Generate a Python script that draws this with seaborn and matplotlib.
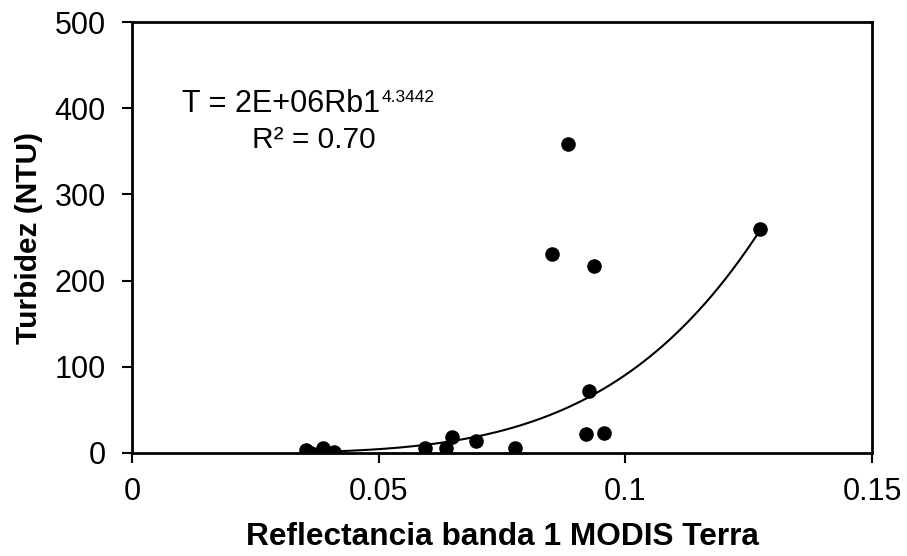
import numpy as np
import pandas as pd
import matplotlib
matplotlib.use("Agg")
import matplotlib.pyplot as plt
import seaborn as sns

# Data
reflectance = [0.0353, 0.0362, 0.0387, 0.0410, 0.0593, 0.0636, 0.0649, 0.0697,
               0.0777, 0.0851, 0.0884, 0.0920, 0.0926, 0.0937, 0.0957, 0.1273]
turbidity = [3.5, 0.5, 5.4, 1.5, 6.0, 5.4, 18.0, 14.3,
             5.8, 230.8, 358.5, 22.0, 72.3, 217.3, 22.8, 259.5]

# Power trendline parameters (from the chart's equation)
coef_a = 2e6
coef_b = 4.3442

x_ticks = [0, 0.05, 0.1, 0.15]
x_tick_labels = ["0", "0.05", "0.1", "0.15"]
y_ticks = [0, 100, 200, 300, 400, 500]

sns.set_theme(style="white")
plt.rcParams["font.family"] = ["Liberation Sans", "DejaVu Sans"]

df = pd.DataFrame({"x": reflectance, "y": turbidity})

fig = plt.figure(figsize=(9.07, 5.56), dpi=100)
ax = fig.add_axes([132 / 907, 1 - 453 / 556, (872 - 132) / 907, (453 - 22) / 556])

xs = np.linspace(min(reflectance), max(reflectance), 200)
trend = pd.DataFrame({"x": xs, "y": coef_a * xs ** coef_b})
sns.lineplot(data=trend, x="x", y="y", ax=ax, color="black", linewidth=1.5, zorder=2)
sns.scatterplot(data=df, x="x", y="y", ax=ax, color="black", s=110,
                edgecolor="black", linewidth=0, zorder=3)

ax.set_xlim(0, 0.15)
ax.set_ylim(0, 500)
ax.set_xticks(x_ticks)
ax.set_xticklabels(x_tick_labels)
ax.set_yticks(y_ticks)
ax.tick_params(axis="both", direction="out", length=7, width=1.5,
               labelsize=22, color="black", labelcolor="black",
               bottom=True, left=True)
ax.tick_params(axis="x", pad=10)
ax.tick_params(axis="y", pad=12)
for sp in ax.spines.values():
    sp.set_color("black")
    sp.set_linewidth(2)

ax.set_xlabel("Reflectancia banda 1 MODIS Terra", fontsize=22.8, fontweight="bold",
              color="black", labelpad=11)
ax.set_ylabel("Turbidez (NTU)", fontsize=21.5, fontweight="bold", color="black",
              labelpad=8)

main = ax.text(0.01007, 396, "T = 2E+06Rb1", fontsize=22, color="black",
               va="baseline", ha="left")
fig.canvas.draw()
bb = main.get_window_extent(renderer=fig.canvas.get_renderer())
ax.annotate("4.3442", xy=(bb.x1, bb.y0), xycoords="figure pixels",
            xytext=(1, 12), textcoords="offset points", fontsize=12.5,
            color="black", va="baseline", ha="left")
ax.text(0.0243, 354, "R² = 0.70", fontsize=21.5, color="black",
        va="baseline", ha="left")

fig.savefig("out.png", dpi=100)
